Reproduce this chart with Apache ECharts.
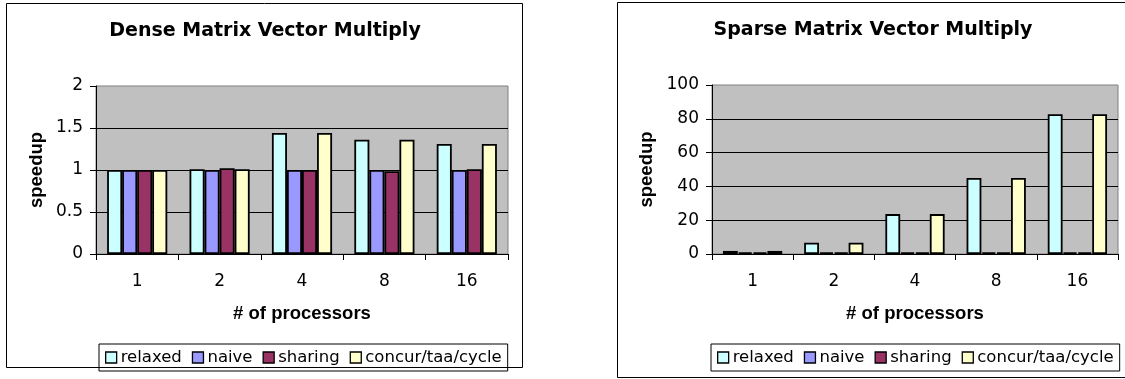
<!DOCTYPE html>
<html>
<head>
<meta charset="utf-8">
<script src="https://cdn.jsdelivr.net/npm/echarts@6/dist/echarts.min.js"></script>
<style>
html,body{margin:0;padding:0;background:#fff;}
#c{width:1125px;height:379px;}
</style>
</head>
<body>
<div id="c"></div>
<script>
const categories = ['1', '2', '4', '8', '16'];
const seriesNames = ['relaxed', 'naive', 'sharing', 'concur/taa/cycle'];
const seriesColors = ['#CCFFFF', '#9999FF', '#993366', '#FFFFCC'];

const denseRelaxed = [1.0, 1.01, 1.44, 1.36, 1.31];
const denseNaive   = [1.0, 1.0, 1.0, 1.0, 1.0];
const denseSharing = [1.0, 1.02, 1.0, 0.985, 1.01];
const denseConcur  = [1.0, 1.01, 1.44, 1.36, 1.31];

const sparseRelaxed = [1.8, 6.7, 23.6, 45, 82.7];
const sparseNaive   = [1, 1, 1, 1, 1];
const sparseSharing = [1, 1, 1, 1, 1];
const sparseConcur  = [1.8, 6.7, 23.6, 45, 82.7];

const denseTitle = 'Dense Matrix Vector Multiply';
const sparseTitle = 'Sparse Matrix Vector Multiply';
const xName = '# of processors';
const yName = 'speedup';

const WIDE = '"DejaVu Sans", Verdana, sans-serif';
const ARIAL = '"Liberation Sans", Arial, sans-serif';

const chart = echarts.init(document.getElementById('c'), null, {renderer: 'canvas'});

function makeSeries(dataArrays, gridIdx) {
  return dataArrays.map((d, i) => ({
    name: seriesNames[i],
    type: 'bar',
    xAxisIndex: gridIdx,
    yAxisIndex: gridIdx,
    data: d,
    barGap: '0%',
    barCategoryGap: '27%',
    itemStyle: {color: seriesColors[i], borderColor: '#000', borderWidth: 1.8},
    emphasis: {disabled: true},
    animation: false
  }));
}

function xAxis(gridIdx) {
  return {
    type: 'category', gridIndex: gridIdx, data: categories,
    name: xName, nameLocation: 'middle', nameGap: 60,
    nameTextStyle: {fontFamily: ARIAL, fontWeight: 'bold', fontSize: 18.5, color: '#000', verticalAlign: 'middle'},
    axisLine: {lineStyle: {color: '#000', width: 1}},
    axisTick: {show: true, length: 6, lineStyle: {color: '#000'}},
    axisLabel: {fontFamily: WIDE, fontSize: 17, color: '#000', margin: 19}
  };
}

function yAxis(gridIdx, max, interval, gap) {
  return {
    type: 'value', gridIndex: gridIdx, min: 0, max: max, interval: interval,
    name: yName, nameLocation: 'middle', nameGap: gap, nameRotate: 90,
    nameTextStyle: {fontFamily: ARIAL, fontWeight: 'bold', fontSize: 18.5, color: '#000', verticalAlign: 'middle'},
    axisLine: {show: true, lineStyle: {color: '#000', width: 1}},
    axisTick: {show: true, length: 6, lineStyle: {color: '#000'}},
    axisLabel: {fontFamily: WIDE, fontSize: 17, color: '#000', margin: 13},
    splitLine: {show: true, showMaxLine: false, lineStyle: {color: '#000', width: 1}}
  };
}

function legend(left) {
  return {
    left: left, top: 344,
    data: seriesNames,
    orient: 'horizontal',
    itemWidth: 11, itemHeight: 11, itemGap: 10,
    icon: 'rect',
    itemStyle: {borderColor: '#000', borderWidth: 1.3},
    textStyle: {fontFamily: WIDE, fontSize: 16.5, color: '#000', padding: [0, 0, 0, -1]},
    borderColor: '#000', borderWidth: 1,
    padding: [5, 6, 5, 6],
    selectedMode: false
  };
}

const option = {
  animation: false,
  backgroundColor: '#fff',
  grid: [
    {left: 96, top: 86, width: 412, height: 168, show: true, backgroundColor: '#C0C0C0', borderColor: '#808080', borderWidth: 1},
    {left: 712, top: 85, width: 406, height: 169, show: true, backgroundColor: '#C0C0C0', borderColor: '#808080', borderWidth: 1}
  ],
  xAxis: [xAxis(0), xAxis(1)],
  yAxis: [yAxis(0, 2, 0.5, 59), yAxis(1, 100, 20, 65)],
  legend: [legend(99), legend(711)],
  series: makeSeries([denseRelaxed, denseNaive, denseSharing, denseConcur], 0)
    .concat(makeSeries([sparseRelaxed, sparseNaive, sparseSharing, sparseConcur], 1)),
  graphic: [
    {type: 'rect', shape: {x: 6.5, y: 3.5, width: 516, height: 364}, style: {fill: 'none', stroke: '#000', lineWidth: 1}, silent: true},
    {type: 'rect', shape: {x: 617.5, y: 2.5, width: 520, height: 375}, style: {fill: 'none', stroke: '#000', lineWidth: 1}, silent: true},
    {type: 'text', x: 265, y: 31, style: {text: denseTitle, font: 'bold 19px ' + WIDE, fill: '#000', align: 'center', verticalAlign: 'middle', textAlign: 'center', textVerticalAlign: 'middle'}, silent: true},
    {type: 'text', x: 873, y: 30, style: {text: sparseTitle, font: 'bold 19px ' + WIDE, fill: '#000', align: 'center', verticalAlign: 'middle', textAlign: 'center', textVerticalAlign: 'middle'}, silent: true}
  ]
};
chart.setOption(option);
</script>
</body>
</html>
